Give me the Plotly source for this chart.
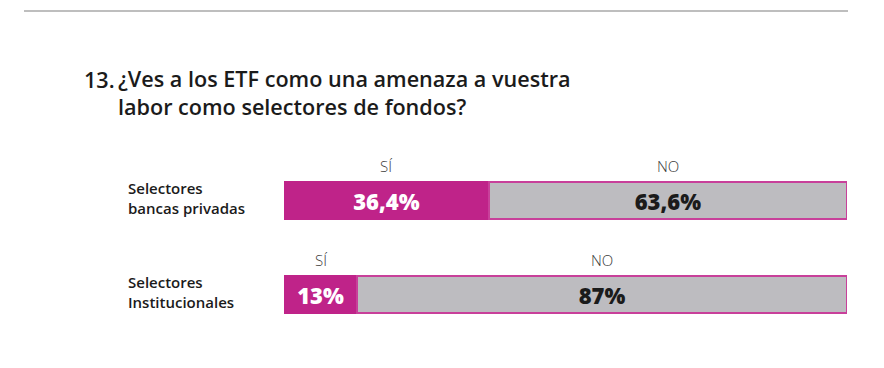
import plotly.graph_objects as go

categories = ["Selectores<br>bancas privadas", "Selectores<br>Institucionales"]
si_values = [36.4, 13]
no_values = [63.6, 87]
series_names = ["SÍ", "NO"]
title_number = "13."
title_text = "¿Ves a los ETF como una amenaza a vuestra<br>labor como selectores de fondos?"

W, H = 884, 368
OFF = 8  # page body margin
PINK = "#BF2389"
GRAY = "#BDBCC0"
DARK = "#1b1b1b"
FONT = "Open Sans"

def px(x):
    return (x - OFF) / W

def py(y):
    return 1 - (y - OFF) / H

rows = [1, 0]  # top row first
bar_w = 0.394
row_gap = 94.0
row1_c, row2_c = 200.5 - OFF, 294.5 - OFF

def fmt(v):
    s = f"{v:.1f}".rstrip("0").rstrip(".")
    return s.replace(".", ",") + "%"

fig = go.Figure()
fig.add_trace(go.Bar(
    y=rows, x=si_values, orientation="h", width=bar_w, name=series_names[0],
    marker=dict(color=PINK, line=dict(color=PINK, width=1.5)),
    text=[fmt(v) for v in si_values], textposition="inside", insidetextanchor="middle",
    textfont=dict(family=FONT, size=22, color="white", weight=800),
    constraintext="none", hoverinfo="skip"))
fig.add_trace(go.Bar(
    y=rows, x=no_values, orientation="h", width=bar_w, name=series_names[1],
    marker=dict(color=GRAY, line=dict(color="#C8409A", width=1.5)),
    text=[fmt(v) for v in no_values], textposition="inside", insidetextanchor="middle",
    textfont=dict(family=FONT, size=22, color=DARK, weight=800),
    constraintext="none", hoverinfo="skip"))

annotations = []
for r, cat, s, n in zip(rows, categories, si_values, no_values):
    annotations.append(dict(x=px(126), xref="paper", y=r + 0.03, yref="y", text=cat,
                            showarrow=False, xanchor="left", yanchor="middle", align="left",
                            font=dict(family=FONT, size=15, color=DARK, weight=600)))
    annotations.append(dict(x=s / 2, xref="x", y=r + 0.367, yref="y", text=series_names[0],
                            showarrow=False, xanchor="center", yanchor="middle",
                            font=dict(family=FONT, size=15, color="#3a3a3a", weight=300)))
    annotations.append(dict(x=s + n / 2, xref="x", y=r + 0.367, yref="y", text=series_names[1],
                            showarrow=False, xanchor="center", yanchor="middle",
                            font=dict(family=FONT, size=15, color="#3a3a3a", weight=300)))

annotations.append(dict(x=px(82), xref="paper", y=py(79), yref="paper", text=title_number,
                        showarrow=False, xanchor="left", yanchor="middle",
                        font=dict(family=FONT, size=21.6, color=DARK, weight=600)))
annotations.append(dict(x=px(116), xref="paper", y=py(93), yref="paper", text=title_text,
                        showarrow=False, xanchor="left", yanchor="middle", align="left",
                        font=dict(family=FONT, size=21.6, color=DARK, weight=600)))

fig.update_layout(
    width=W, height=H, barmode="stack", showlegend=False,
    margin=dict(l=0, r=0, t=0, b=0),
    paper_bgcolor="white", plot_bgcolor="white",
    xaxis=dict(domain=[px(284), px(847)], range=[0, 100], visible=False, fixedrange=True),
    yaxis=dict(domain=[0, 1], range=[-(H - row2_c) / row_gap, 1 + row1_c / row_gap],
               visible=False, fixedrange=True),
    annotations=annotations,
    shapes=[dict(type="line", xref="paper", yref="paper", x0=px(24), x1=px(848),
                 y0=py(11), y1=py(11), line=dict(color="#A8A8A8", width=1.5))],
)

fig.write_html("out.html", config={"displayModeBar": False})
